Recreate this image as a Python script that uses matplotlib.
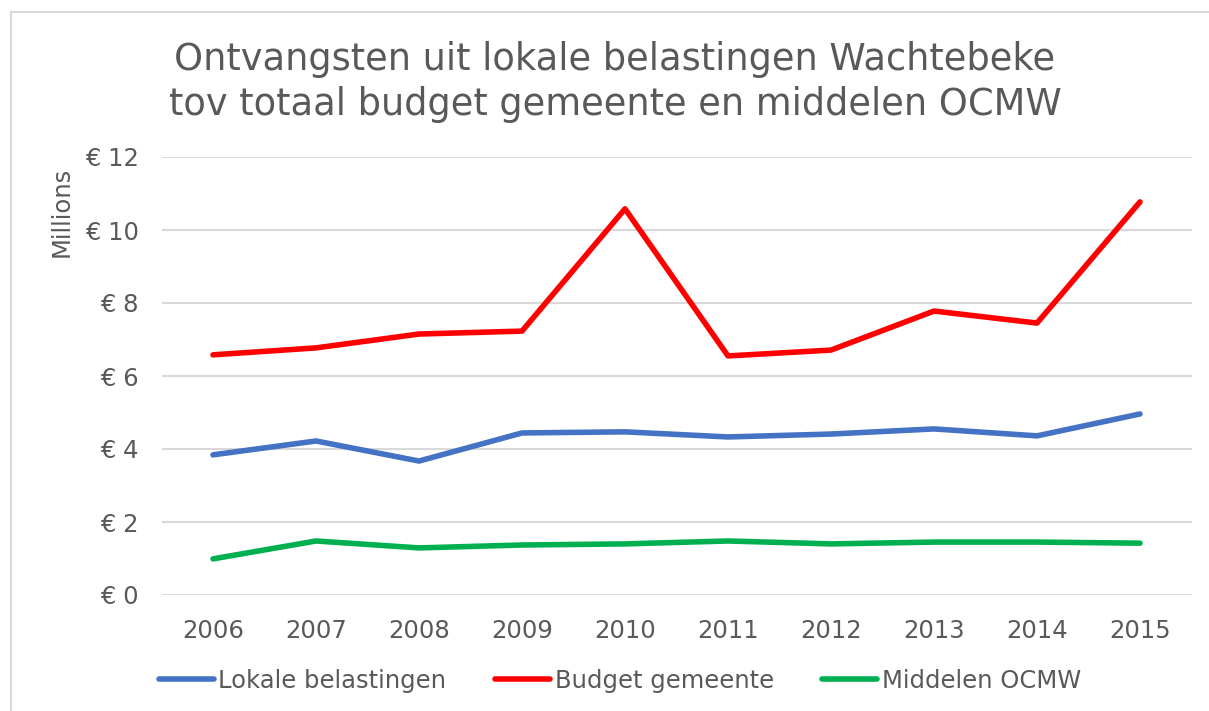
import matplotlib.pyplot as plt
from matplotlib.patches import Rectangle
from matplotlib.ticker import FuncFormatter

YEARS = ['2006', '2007', '2008', '2009', '2010', '2011', '2012', '2013', '2014', '2015']
LOKALE = [3.84, 4.22, 3.67, 4.44, 4.47, 4.33, 4.41, 4.55, 4.36, 4.96]
BUDGET = [6.58, 6.77, 7.15, 7.23, 10.58, 6.55, 6.71, 7.78, 7.45, 10.77]
OCMW = [0.99, 1.48, 1.29, 1.37, 1.40, 1.48, 1.40, 1.45, 1.45, 1.42]

GREY = '#595959'
W, H = 1209, 711
FS = 17.5

plt.rcParams['font.family'] = ['DejaVu Sans']

fig = plt.figure(figsize=(W / 100, H / 100), dpi=100)
ax = fig.add_axes([161.5 / W, (H - 595) / H, 1030 / W, 438 / H])

# rand rond de grafiek (rechts en onder valt buiten beeld)
fig.patches.append(Rectangle((11 / W, -0.1), 1.1, 1.1 - 12 / H, transform=fig.transFigure,
                             fill=False, edgecolor='#d9d9d9', linewidth=1.5))

x = range(len(YEARS))
ax.plot(x, LOKALE, color='#4472c4', lw=4, solid_capstyle='round', label='Lokale belastingen')
ax.plot(x, BUDGET, color='#ff0000', lw=4, solid_capstyle='round', label='Budget gemeente')
ax.plot(x, OCMW, color='#00b050', lw=4, solid_capstyle='round', label='Middelen OCMW')

ax.set_xlim(-0.5, len(YEARS) - 0.5)
ax.set_ylim(0, 12)
ax.set_yticks(range(0, 13, 2))
ax.yaxis.set_major_formatter(FuncFormatter(lambda v, p: f'€ {v:.0f}'))
ax.set_xticks(list(x))
ax.set_xticklabels(YEARS)
ax.grid(axis='y', color='#d9d9d9', lw=1.5)
ax.set_axisbelow(True)
for s in ax.spines.values():
    s.set_visible(False)
ax.tick_params(axis='y', length=0, pad=16.5, labelsize=FS, labelcolor=GREY)
ax.tick_params(axis='x', length=0, pad=17.5, labelsize=FS, labelcolor=GREY)

fig.text(62 / W, (H - 212) / H, 'Millions', rotation=90, ha='center', va='center',
         fontsize=FS, color=GREY)
fig.text(615 / W, (H - 82) / H, 'Ontvangsten uit lokale belastingen Wachtebeke\n'
         'tov totaal budget gemeente en middelen OCMW',
         ha='center', va='center', fontsize=26.5, color=GREY, linespacing=1.3)

fig.legend(loc='center', bbox_to_anchor=(620 / W, (H - 681) / H), ncol=3, frameon=False,
           fontsize=FS, labelcolor=GREY, handlelength=2.25, handletextpad=0.2,
           columnspacing=2.0)

fig.savefig('out.png', dpi=100)
